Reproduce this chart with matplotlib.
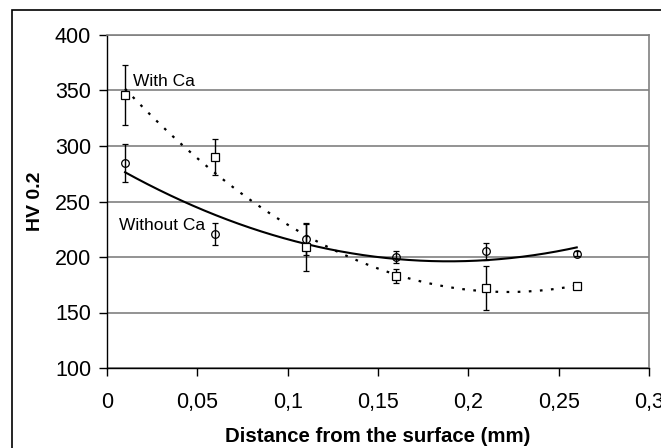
import numpy as np
import matplotlib
matplotlib.use("Agg")
import matplotlib.pyplot as plt
from matplotlib.patches import Rectangle
from matplotlib.ticker import FuncFormatter

plt.rcParams['font.family'] = ['Liberation Sans', 'DejaVu Sans']

distance = [0.01, 0.06, 0.11, 0.16, 0.21, 0.26]
with_ca = [346, 290, 209, 183, 172, 174]
with_ca_err = [27, 16, 22, 6, 20, 2]
without_ca = [285, 221, 216, 200, 205, 203]
without_ca_err = [17, 10, 14, 5, 8, 2]
x_ticks = [0, 0.05, 0.1, 0.15, 0.2, 0.25, 0.3]
y_ticks = [100, 150, 200, 250, 300, 350, 400]

W, H = 661, 448
fig = plt.figure(figsize=(W / 100, H / 100), dpi=100)
ax = fig.add_axes([107 / W, 1 - 368 / H, (649 - 107) / W, (368 - 35) / H])

# outer frame
fig.patches.append(Rectangle((12 / W, -0.1), 1.2, 1 - 10 / H + 0.1, transform=fig.transFigure,
                             fill=False, edgecolor='black', linewidth=1.2, clip_on=False))

ax.set_xlim(0, 0.3)
ax.set_ylim(100, 400)
ax.set_xticks(x_ticks)
ax.set_yticks(y_ticks)
ax.xaxis.set_major_formatter(FuncFormatter(lambda v, p: ('%g' % v).replace('.', ',')))
ax.yaxis.grid(True, color='#808080', linewidth=1.2)
ax.set_axisbelow(True)
for s in ['top', 'right']:
    ax.spines[s].set_color('#808080')
    ax.spines[s].set_linewidth(1.2)
for s in ['left', 'bottom']:
    ax.spines[s].set_color('black')
    ax.spines[s].set_linewidth(1.0)
ax.tick_params(axis='both', direction='out', length=6, width=1, labelsize=15.5, color='black')
ax.tick_params(axis='x', pad=11)
ax.tick_params(axis='y', pad=5.5)

xs = np.array(distance)
xf = np.linspace(min(distance), max(distance), 200)
p1 = np.polyfit(xs, with_ca, 2)
p2 = np.polyfit(xs, without_ca, 2)
ax.plot(xf, np.polyval(p1, xf), color='black', linewidth=1.6, linestyle=(0, (1.2, 3.8)))
ax.plot(xf, np.polyval(p2, xf), color='black', linewidth=1.5, linestyle='-')

ax.errorbar(distance, with_ca, yerr=with_ca_err, fmt='s', mfc='white', mec='black', mew=0.9,
            ms=6, ecolor='black', elinewidth=1, capsize=2.5, capthick=1)
ax.errorbar(distance, without_ca, yerr=without_ca_err, fmt='o', mfc='none', mec='black', mew=0.9,
            ms=5.5, ecolor='black', elinewidth=1, capsize=2.5, capthick=1)

ax.text(0.0145, 358, 'With Ca', fontsize=12.5, ha='left', va='center')
ax.text(0.0065, 228, 'Without Ca', fontsize=12.5, ha='left', va='center')

ax.set_xlabel('Distance from the surface (mm)', fontsize=14.7, fontweight='bold', labelpad=10)
ax.set_ylabel('HV 0.2', fontsize=14, fontweight='bold', labelpad=8)

fig.savefig('out.png', dpi=100)
